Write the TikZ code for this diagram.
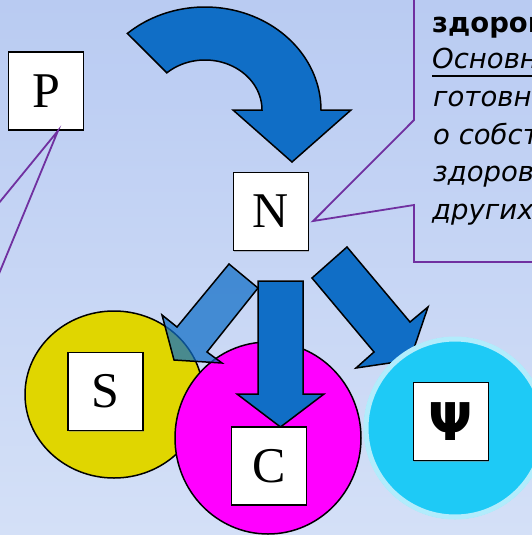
\documentclass[tikz,border=0pt]{standalone}
\usepackage{fontspec}
\setmainfont{Liberation Serif}
\newfontfamily\calloutfont{DejaVu Sans}
\newfontfamily\psifont{DejaVu Sans}
\usetikzlibrary{shadows}

\definecolor{bgtop}{HTML}{B9CBF2}
\definecolor{bgbot}{HTML}{D4E0F7}
\definecolor{arrowblue}{HTML}{106EC6}
\definecolor{calloutpurple}{HTML}{7030A0}
\definecolor{somayellow}{HTML}{E0D600}
\definecolor{socmagenta}{HTML}{FF00FF}
\definecolor{psycyan}{HTML}{1ECAF6}
\definecolor{psyrim}{HTML}{B2ECFC}

\begin{document}
\begin{tikzpicture}[x=1pt,y=-1pt,
  letterbox/.style={draw=black, line width=1.5pt, fill=white,
    minimum width=75pt, minimum height=78pt, inner sep=0pt,
    drop shadow={shadow xshift=0.6pt, shadow yshift=-1.4pt, opacity=0.45},
    font=\fontsize{50}{50}\selectfont},
  blockarrow/.style={fill=arrowblue, draw=black, line width=1.5pt, line join=miter},
  sphere/.style={draw=black, line width=1.5pt},
  calloutline/.style={draw=calloutpurple, line width=1.8pt, line join=miter},
  callouttext/.style={anchor=base west, inner sep=0pt,
    font=\calloutfont\fontsize{27.5}{32}\selectfont}]

\useasboundingbox (0,0) rectangle (532,535);
\clip (0,0) rectangle (532,535);

% backdrop
\shade[top color=bgtop, bottom color=bgbot] (0,0) rectangle (532,535);

% curved arrow above N
\draw[blockarrow]
  plot[domain=-132:0, samples=60] ({205+116*cos(\x)}, {110+103*sin(\x)})
  -- (351,110) -- (292,162) -- (233,110) -- (262,110)
  -- plot[domain=0:-132, samples=60] ({205+57*cos(\x)}, {110+50*sin(\x)})
  -- cycle;

% boxes P and N
\node[letterbox] (P) at (46,91) {P};
\node[letterbox] (N) at (271,211.5) {N};

% pointer lines from P towards the left
\coordinate (pend1) at (-6,209);
\coordinate (pend2) at (-4,281);
\draw[calloutline] (pend1) -- ([xshift=12pt]P.south) -- (pend2);

% callout at the upper right, pointing to N
\coordinate (ctop) at (414,-5);
\coordinate (cright) at (545,262);
\draw[calloutline] (ctop) -- (414,120) -- ([shift={(4,9.5)}]N.east)
  -- (414,205) -- (414,262) -- (cright);

\node[callouttext, font=\calloutfont\bfseries\fontsize{27.5}{32}\selectfont] (t1) at (432,33) {здоровье};
\node[callouttext] (t2) at (432,69) {\itshape\rlap{\rule[-7.5pt]{140pt}{2pt}}Основные};
\node[callouttext] (t3) at (433,106.5) {\itshape готовность};
\node[callouttext] (t4) at (433,144) {\itshape о собственном};
\node[callouttext] (t5) at (433,181.5) {\itshape здоровье и};
\node[callouttext] (t6) at (432,219) {\itshape других};

% spheres
\fill[somayellow] (114,394.5) ellipse[x radius=89, y radius=83.5];
\draw[sphere] (114,394.5) ellipse[x radius=89, y radius=83.5];
\fill[socmagenta] (268,438) ellipse[x radius=93, y radius=96];
\draw[sphere] (268,438) ellipse[x radius=93, y radius=96];

% arrow to S (translucent)
\draw[blockarrow, fill opacity=0.72]
  (229,264) -- (258,288) -- (207,352) -- (222,363) -- (174,360) -- (162,315) -- (177,327) -- cycle;

% arrow to Psi
\draw[blockarrow]
  (312,278) -- (347,247) -- (410,322) -- (428,307) -- (410,360) -- (356,368) -- (374,352) -- cycle;

% Psi sphere
\fill[psycyan] (455,428) circle[radius=91];
\draw[psyrim, line width=5pt] (455,428) circle[radius=89];

% arrow to C
\draw[blockarrow]
  (258,281) -- (303,281) -- (303,394) -- (324,394) -- (280.5,427) -- (237,394) -- (258,394) -- cycle;

% letter boxes on the spheres
\node[letterbox] (S) at (105.5,391.5) {S};
\node[letterbox] (C) at (269,466) {C};
\node[letterbox, font=\psifont\bfseries\fontsize{52}{52}\selectfont] (Psi) at (451,421.5) {Ψ};

\end{tikzpicture}
\end{document}
